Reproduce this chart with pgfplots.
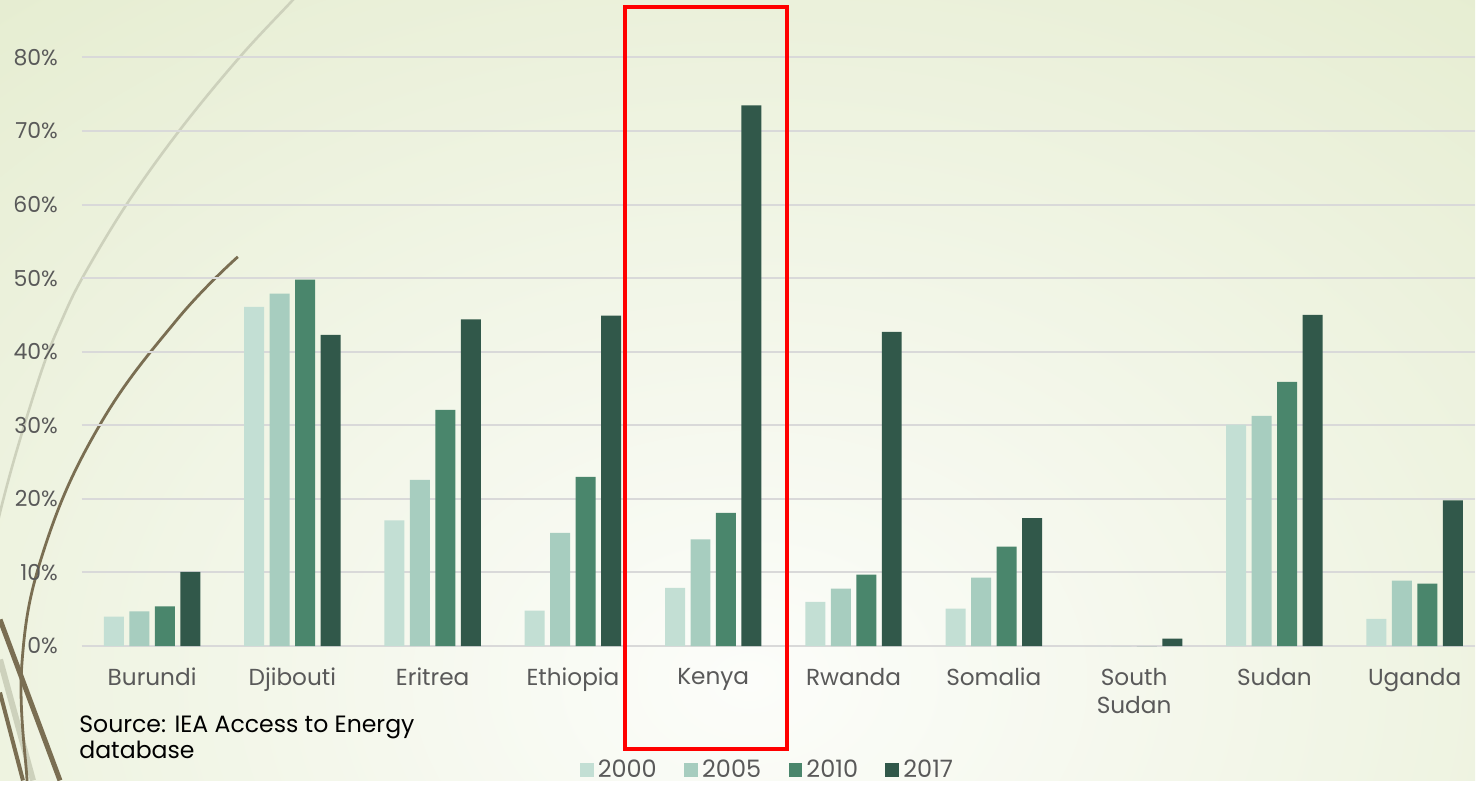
\documentclass[border=0pt]{standalone}
\usepackage{pgfplots}
\pgfplotsset{compat=1.18}
\usepackage{fontspec}
\setmainfont{Poppins}
\definecolor{cA}{HTML}{C3DFD4}
\definecolor{cB}{HTML}{A7CDBF}
\definecolor{cC}{HTML}{4A866C}
\definecolor{cD}{HTML}{31584A}
\definecolor{txt}{HTML}{595959}
\definecolor{bgout}{HTML}{E3EBCC}
\definecolor{bgin}{HTML}{FCFDFA}
\definecolor{brown}{HTML}{7A6E52}
\definecolor{lightcurve}{HTML}{CDD1BC}
\pgfplotstableread{
x y00 y05 y10 y17
0 4.0 4.7 5.4 10.1
1 46.1 47.9 49.8 42.3
2 17.1 22.6 32.1 44.4
3 4.8 15.4 23.0 44.9
4 7.9 14.5 18.1 73.5
5 6.0 7.8 9.7 42.7
6 5.1 9.3 13.5 17.4
7 0 0 0 1.0
8 30.1 31.3 35.9 45.0
9 3.7 8.9 8.5 19.8
}\datatable
\begin{document}
\begin{tikzpicture}
\begin{scope}[x=0.5pt,y=0.5pt]
\useasboundingbox (0,0) rectangle (1476,781);
\clip (0,0) rectangle (1476,781);
\shade[inner color=bgin, outer color=bgout] (-600,-900) rectangle (2100,1100);
% decorative curves
\draw[lightcurve, line width=1.3pt] plot[smooth, tension=0.6] coordinates {(300,790) (293,781) (240,724) (180,651) (127,577) (83,504) (62,461) (43,414) (17,331) (0,268) (-5,240)};
\draw[lightcurve, line width=3pt] (0,121) -- (33,0);
\draw[brown, line width=1.4pt] plot[smooth, tension=0.7] coordinates {(238,524) (177,461) (100,356) (45,234) (22,118) (27,1) (29,-10)};
\draw[brown, line width=2.5pt] (0,161) -- (60,0);
\draw[brown, line width=2pt] (0,88) -- (23,0);
\end{scope}
\begin{axis}[
  name=ax,
  at={(41pt,67.25pt)}, anchor=south west,
  scale only axis,
  width=697pt, height=294.5pt,
  xmin=-0.5, xmax=9.43, ymin=0, ymax=80,
  axis line style={draw=none},
  ybar=2.75pt, bar width=10pt,
  ymajorgrids, grid style={color=black!15, line width=1pt},
  ytick={0,10,...,80},
  yticklabel={\pgfmathprintnumber{\tick}\%},
  xtick=data,
  xticklabels={Burundi,Djibouti,Eritrea,Ethiopia,Kenya,Rwanda,Somalia,{South\\Sudan},Sudan,Uganda},
  x tick label style={font=\fontsize{11.6}{14}\selectfont, text=txt, align=center, anchor=north, yshift=-7.5pt},
  y tick label style={font=\fontsize{11}{12}\selectfont, text=txt, anchor=east, xshift=-8.5pt},
  major tick length=0pt,
  /pgf/number format/assume math mode=true,
  clip=false,
  legend columns=4,
  legend style={at={(0.4928,-0.2114)}, anchor=center, draw=none, fill=none,
    font=\fontsize{12}{13}\selectfont, text=txt,
    /tikz/every even column/.append style={column sep=11.7pt},
    /tikz/every odd column/.append style={column sep=0pt}},
  legend image code/.code={\fill[#1] (0pt,-3.5pt) rectangle (7pt,3.5pt);},
]
\addplot[draw=none, fill=cA] table[x=x,y=y00]{\datatable};
\addplot[draw=none, fill=cB] table[x=x,y=y05]{\datatable};
\addplot[draw=none, fill=cC] table[x=x,y=y10]{\datatable};
\addplot[draw=none, fill=cD] table[x=x,y=y17]{\datatable};
\legend{2000,2005,2010,2017}
\end{axis}
\begin{scope}[x=0.5pt,y=0.5pt]
\draw[red, line width=2pt] (625,774) rectangle (788,31);
\node[anchor=north west, align=left, inner sep=0pt, font=\fontsize{11.8}{13}\selectfont, text=black] at (79,65) {Source: IEA Access to Energy\\database};
\end{scope}
\end{tikzpicture}
\end{document}
